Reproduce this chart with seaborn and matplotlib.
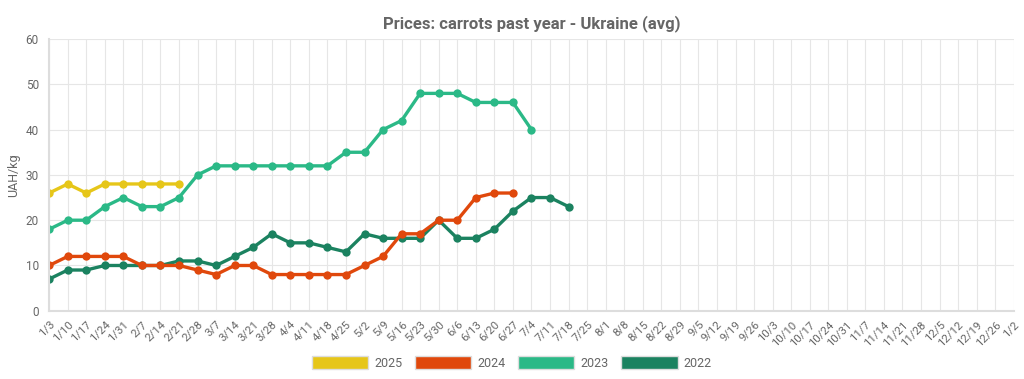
import matplotlib
matplotlib.use("Agg")
import matplotlib.pyplot as plt
import matplotlib.patches as mpatches
import pandas as pd
import seaborn as sns

weeks = ["1/3", "1/10", "1/17", "1/24", "1/31", "2/7", "2/14", "2/21", "2/28",
         "3/7", "3/14", "3/21", "3/28", "4/4", "4/11", "4/18", "4/25", "5/2",
         "5/9", "5/16", "5/23", "5/30", "6/6", "6/13", "6/20", "6/27", "7/4",
         "7/11", "7/18", "7/25", "8/1", "8/8", "8/15", "8/22", "8/29", "9/5",
         "9/12", "9/19", "9/26", "10/3", "10/10", "10/17", "10/24", "10/31",
         "11/7", "11/14", "11/21", "11/28", "12/5", "12/12", "12/19", "12/26", "1/2"]

p2025 = [26, 28, 26, 28, 28, 28, 28, 28]
p2024 = [10, 12, 12, 12, 12, 10, 10, 10, 9, 8, 10, 10, 8, 8, 8, 8, 8, 10, 12,
         17, 17, 20, 20, 25, 26, 26]
p2023 = [18, 20, 20, 23, 25, 23, 23, 25, 30, 32, 32, 32, 32, 32, 32, 32, 35, 35,
         40, 42, 48, 48, 48, 46, 46, 46, 40]
p2022 = [7, 9, 9, 10, 10, 10, 10, 11, 11, 10, 12, 14, 17, 15, 15, 14, 13, 17, 16,
         16, 16, 20, 16, 16, 18, 22, 25, 25, 23]

series = {"2025": p2025, "2024": p2024, "2023": p2023, "2022": p2022}
colors = {"2025": "#E6C619", "2024": "#E0480C", "2023": "#2BB987", "2022": "#1B8260"}

rows = []
for year, vals in series.items():
    for i, v in enumerate(vals):
        rows.append({"week": i, "price": v, "year": year})
df = pd.DataFrame(rows)

sns.set_style("white")
plt.rcParams["font.family"] = ["Roboto", "DejaVu Sans"]
grey = "#666666"

fig, ax = plt.subplots(figsize=(10.24, 3.79), dpi=100)
fig.subplots_adjust(left=0.048, right=0.99, top=0.897, bottom=0.18)

# draw 2022 first so the newer years sit on top
for year in ["2022", "2023", "2024", "2025"]:
    sns.lineplot(data=df[df.year == year], x="week", y="price", color=colors[year],
                 marker="o", markersize=6, markeredgewidth=0, linewidth=2.4, ax=ax)

ax.set_xlim(0, len(weeks) - 1)
ax.set_ylim(0, 60)
ax.set_xticks(range(len(weeks)))
ax.set_xticklabels(weeks, rotation=45, ha="right", rotation_mode="anchor",
                   fontsize=8.2, color=grey)
ax.set_yticks(range(0, 61, 10))
ax.tick_params(axis="y", labelsize=8.5, colors=grey, length=4, color="#dddddd")
ax.tick_params(axis="x", length=4, color="#dddddd", pad=2)
ax.grid(True, color="#e6e6e6", linewidth=0.8)
ax.set_axisbelow(True)
for side in ["top", "right"]:
    ax.spines[side].set_visible(False)
ax.spines["left"].set_color("#dddddd")
ax.spines["bottom"].set_color("#dddddd")
ax.spines["left"].set_linewidth(1.5)
ax.spines["bottom"].set_linewidth(1.5)

ax.set_xlabel("")
ax.set_ylabel("UAH/kg", fontsize=9, color=grey)
ax.set_title("Prices: carrots past year - Ukraine (avg)", fontsize=12,
             fontweight="bold", color=grey, pad=8)

handles = [mpatches.Patch(facecolor=colors[y], edgecolor="#dddddd", label=y)
           for y in ["2025", "2024", "2023", "2022"]]
leg = fig.legend(handles=handles, loc="center", bbox_to_anchor=(0.5, 0.042), ncol=4,
                 frameon=False, fontsize=9, handlelength=4.5, handleheight=1.2,
                 columnspacing=1.0, handletextpad=0.5)
for t in leg.get_texts():
    t.set_color(grey)

fig.savefig("out.png", dpi=100)
